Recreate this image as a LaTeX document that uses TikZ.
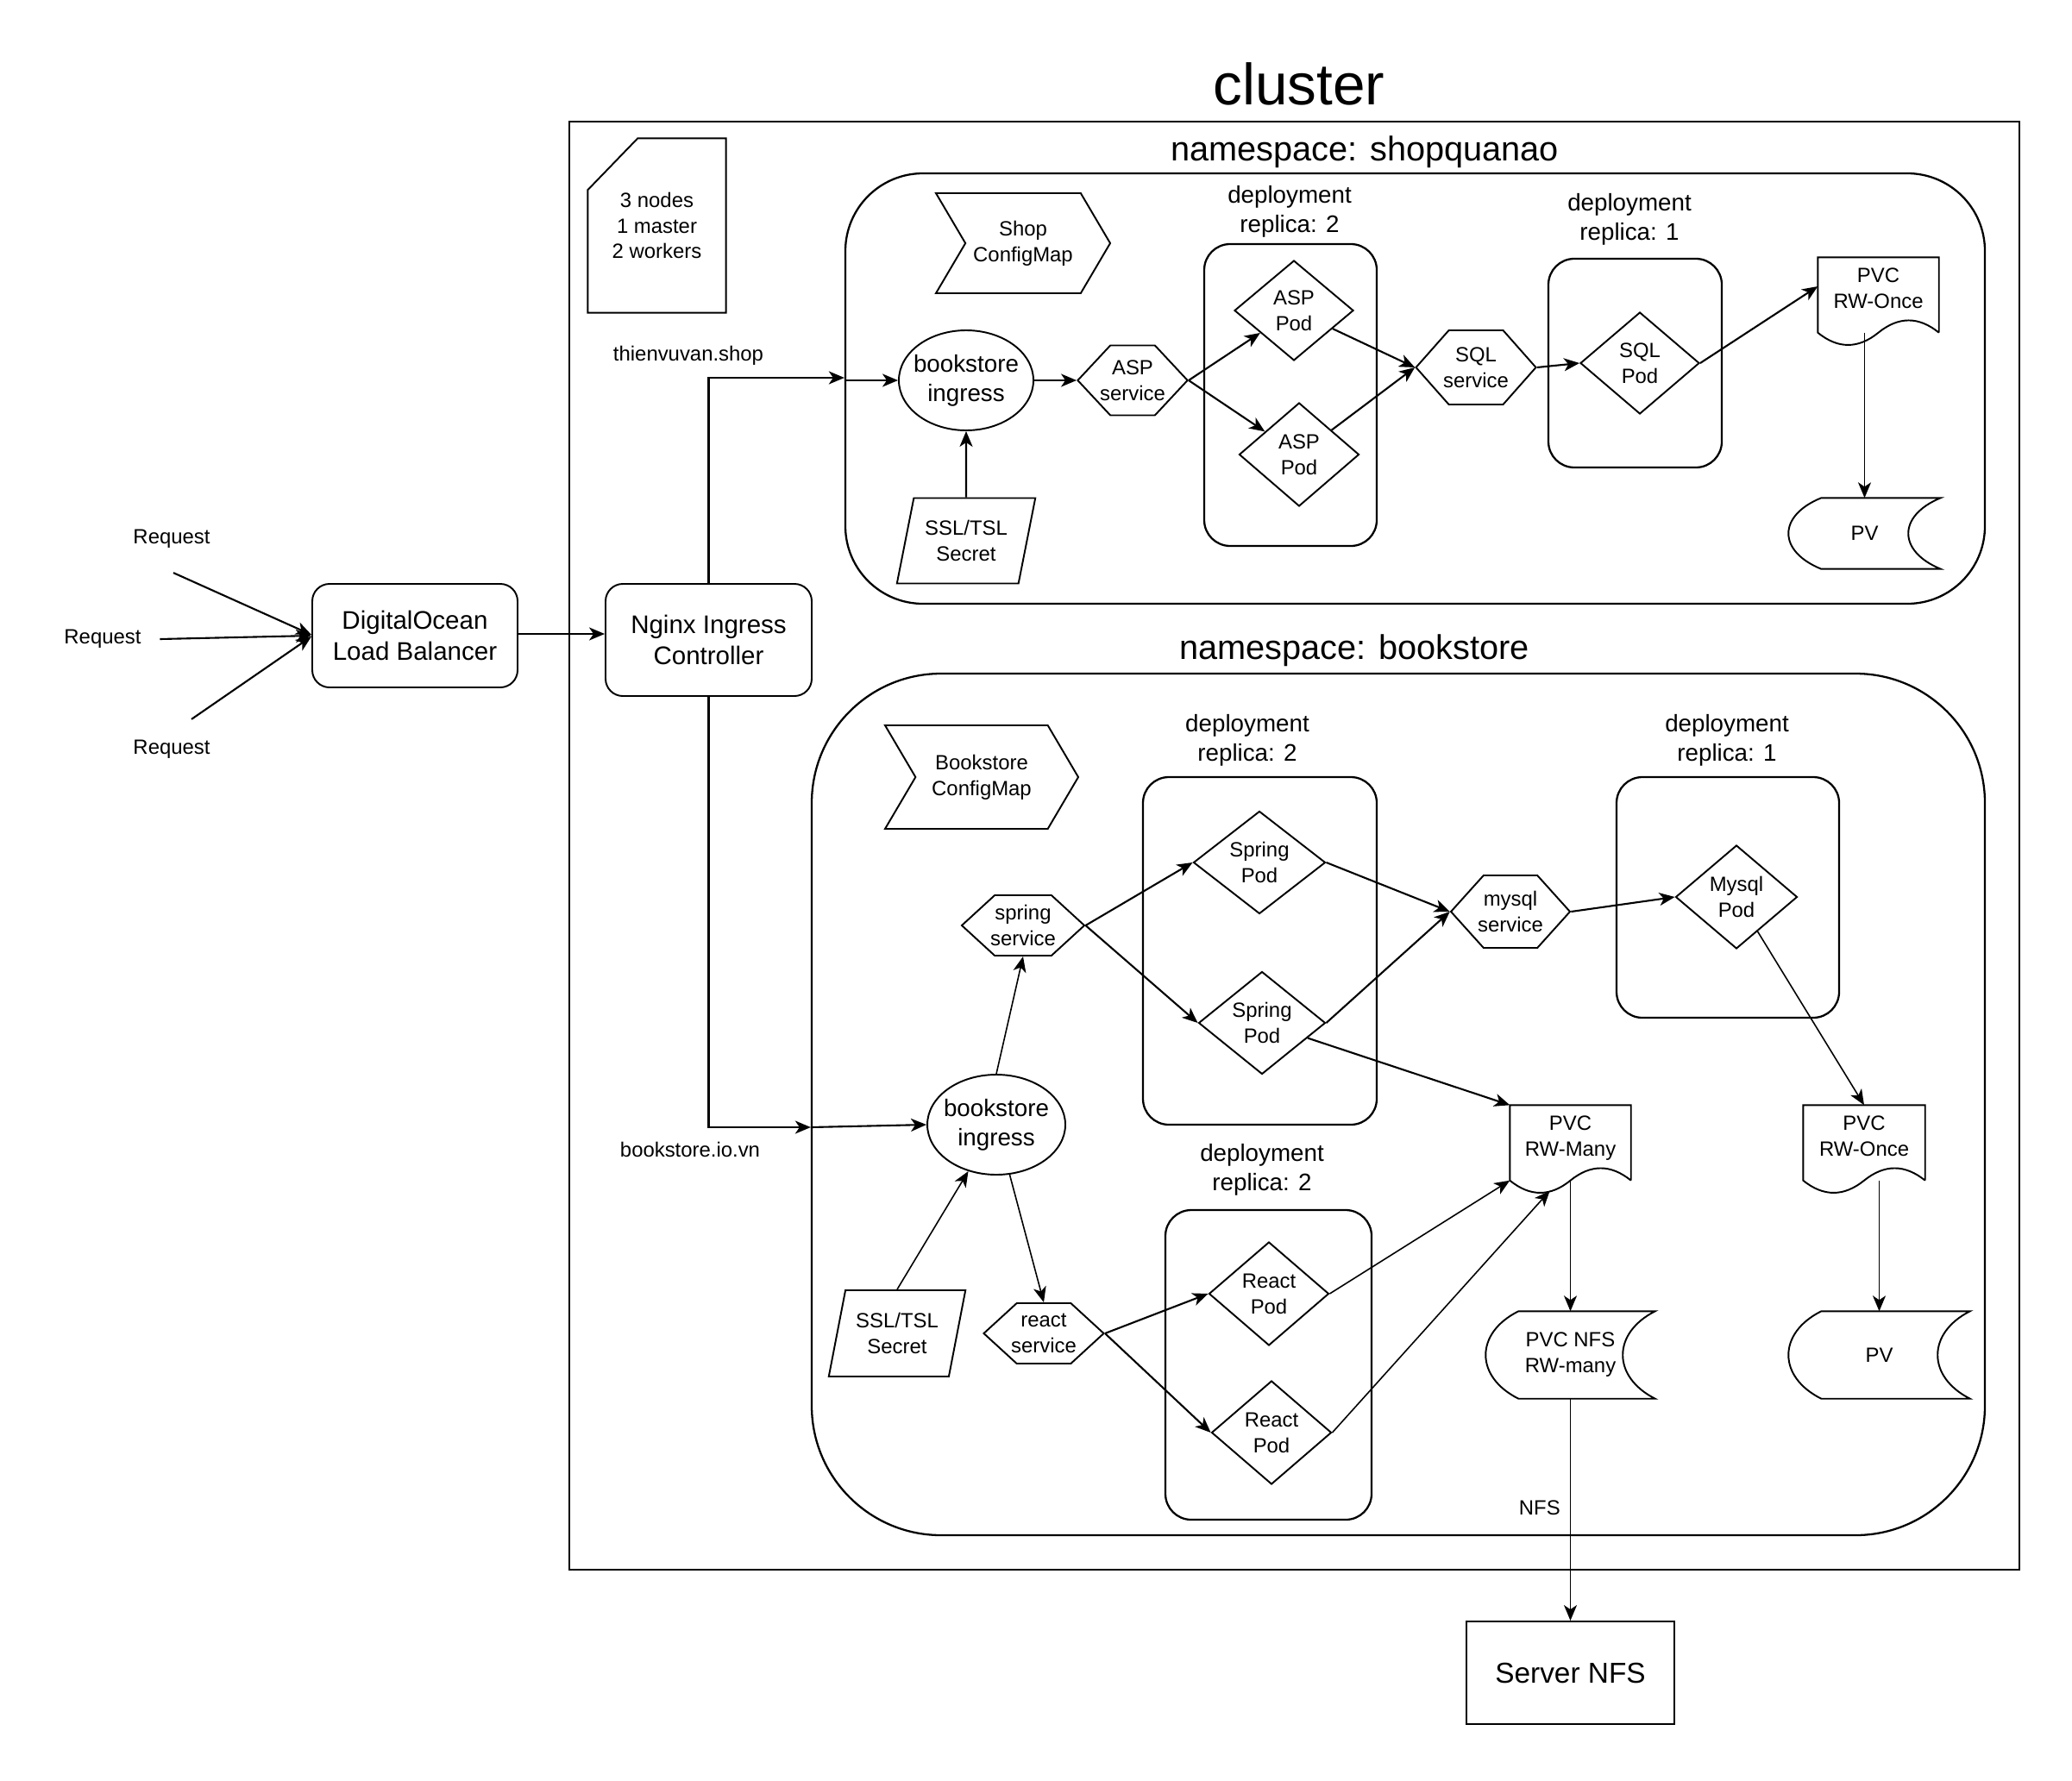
\documentclass[tikz,border=0pt]{standalone}
\usepackage{fontspec}
\setmainfont{Liberation Sans}
\usetikzlibrary{arrows.meta,shapes.geometric,shapes.symbols,calc}

\tikzset{
  sm/.style={font=\fontsize{6.8}{8.5}\selectfont, align=center},
  md/.style={font=\fontsize{7.9}{9.6}\selectfont, align=center},
  box/.style={draw, line width=0.55pt, inner sep=0pt},
  pod/.style={box, diamond, sm},
  svc/.style={box, signal, signal to=east and west, inner xsep=-0.065cm, sm},
  cfg/.style={box, signal, signal from=west, signal to=east, signal pointer angle=119, sm},
  secret/.style={box, trapezium, trapezium left angle=72, trapezium right angle=108,
    trapezium stretches=true, sm},
  ingress/.style={box, ellipse, inner xsep=-0.06cm, md},
  deploy/.style={box, line width=0.65pt, rounded corners=0.3cm},
  pvcbox/.style={sm, text depth=0.15cm},
  arr/.style={-{Stealth[length=0.18cm,width=0.15cm,inset=0.05cm]}, line width=0.6pt},
  tarr/.style={arr, line width=0.45pt},
}

% PVC outline: box with a wavy bottom
\newcommand{\pvcdoc}[1]{%
  \draw[line width=0.55pt] (#1.south east) -- (#1.north east) -- (#1.north west) -- (#1.south west)
    .. controls ($(#1.south west)!0.1667!(#1.south east)+(0,-0.19)$) and ($(#1.south west)!0.3333!(#1.south east)+(0,-0.19)$) .. (#1.south)
    .. controls ($(#1.south west)!0.6667!(#1.south east)+(0,0.19)$) and ($(#1.south west)!0.8333!(#1.south east)+(0,0.19)$) .. (#1.south east);}
% PV outline: round left side, hollow right side
\newcommand{\storeshape}[1]{%
  \draw[line width=0.55pt] ($(#1.north west)+(0.38,0)$) -- (#1.north east)
    .. controls ($(#1.north east)!0.25!(#1.south east)+(-0.5,0)$) and ($(#1.north east)!0.75!(#1.south east)+(-0.5,0)$) .. (#1.south east)
    -- ($(#1.south west)+(0.38,0)$)
    .. controls ($(#1.south west)!0.25!(#1.north west)+(-0.127,0)$) and ($(#1.south west)!0.75!(#1.north west)+(-0.127,0)$) .. ($(#1.north west)+(0.38,0)$) -- cycle;}

\begin{document}
\begin{tikzpicture}
\useasboundingbox (0,0) rectangle (24.02,-20.64);

\node[font=\fontsize{19.2}{23}\selectfont] (ttl) at (15.06,-0.97) {cluster};
\node[box, line width=0.6pt, minimum width=16.81cm, minimum height=16.79cm] (cluster) at (15.005,-9.805) {};

\node[sm, minimum width=1.59cm, minimum height=2.01cm] (note) at (7.615,-2.615) {3 nodes\\1 master\\2 workers};
\draw[line width=0.55pt] ([yshift=-0.6cm]note.north west) -- ([xshift=0.58cm]note.north west)
  -- (note.north east) -- (note.south east) -- (note.south west) -- cycle;

% outside the cluster
\node[sm] (req1) at (1.99,-6.25) {Request};
\node[sm] (req2) at (1.19,-7.41) {Request};
\node[sm] (req3) at (1.99,-8.69) {Request};
\node[box, md, font=\fontsize{8.4}{10}\selectfont, rounded corners=0.2cm, minimum width=2.38cm, minimum height=1.20cm] (lb) at (4.81,-7.37) {DigitalOcean\\Load Balancer};
\node[box, md, font=\fontsize{8.4}{10}\selectfont, rounded corners=0.2cm, minimum width=2.39cm, minimum height=1.30cm] (nginx) at (8.215,-7.42) {Nginx Ingress\\Controller};
\node[box, font=\fontsize{9.5}{11}\selectfont, minimum width=2.41cm, minimum height=1.19cm] (server) at (18.205,-19.395) {Server NFS};

\draw[arr] ([xshift=0.02cm,yshift=-0.16cm]req1.south) -- ([yshift=0.01cm]lb.west);
\draw[arr] ([xshift=0.095cm]req2.east) -- (lb.west);
\draw[arr] ([xshift=0.23cm,yshift=0.12cm]req3.north) -- ([yshift=-0.01cm]lb.west);
\draw[arr] ([yshift=0.02cm]lb.east) -- ([yshift=0.02cm]lb.east -| nginx.west);

% namespace shopquanao
\node[font=\fontsize{11.3}{13}\selectfont] (ns1t) at (15.82,-1.76) {namespace: shopquanao};
\node[box, line width=0.65pt, rounded corners=0.9cm, minimum width=13.21cm, minimum height=4.99cm] (ns1) at (16.405,-4.505) {};

\node[cfg, minimum width=2.02cm, minimum height=1.16cm] (cm1) at (11.86,-2.82) {Shop\\ConfigMap};
\node[ingress, minimum width=1.56cm, minimum height=1.16cm] (ing1) at (11.20,-4.41) {bookstore\\ingress};
\node[svc, signal pointer angle=94, inner xsep=-0.12cm, minimum width=1.25cm, minimum height=0.81cm] (svc1) at (13.13,-4.41) {ASP\\service};
\node[secret, minimum width=1.61cm, minimum height=0.99cm] (sec1) at (11.20,-6.27) {SSL/TSL\\Secret};

\node[md] (dep1t) at (14.95,-2.45) {deployment\\replica: 2};
\node[deploy, minimum width=2.00cm, minimum height=3.50cm] (dep1) at (14.96,-4.58) {};
\node[pod, minimum width=1.38cm, minimum height=1.16cm] (pod1a) at (15.00,-3.60) {ASP\\Pod};
\node[pod, minimum width=1.39cm, minimum height=1.20cm] (pod1b) at (15.06,-5.27) {ASP\\Pod};
\node[svc, signal pointer angle=97, minimum width=1.39cm, minimum height=0.86cm] (sqlsvc) at (17.11,-4.26) {SQL\\service};

\node[md] (dep2t) at (18.89,-2.54) {deployment\\replica: 1};
\node[deploy, minimum width=2.01cm, minimum height=2.42cm] (dep2) at (18.955,-4.21) {};
\node[pod, minimum width=1.38cm, minimum height=1.18cm] (sqlpod) at (19.01,-4.21) {SQL\\Pod};

\node[pvcbox, minimum width=1.39cm, minimum height=0.86cm] (pvc1) at (21.775,-3.42) {PVC\\RW-Once};
\pvcdoc{pvc1}
\node[sm, minimum width=1.75cm, minimum height=0.81cm] (pv1) at (21.615,-6.185) {PV};
\storeshape{pv1}

\coordinate (shopin) at (ns1.west |- ing1.west);
\draw[arr] (nginx.north) |- node[sm, pos=0.5, xshift=-0.235cm, yshift=0.26cm] {thienvuvan.shop} ([yshift=0.03cm]shopin);
\draw[arr] (shopin) -- (ing1.west);
\draw[arr] (ing1.east) -- (svc1.west);
\draw[arr] (sec1.north) -- (ing1.south);
\draw[arr] (svc1.east) -- (pod1a);
\draw[arr] (svc1.east) -- (pod1b);
\draw[arr] (pod1a) -- (sqlsvc.west);
\draw[arr] (pod1b) -- (sqlsvc.west);
\draw[arr] (sqlsvc.east) -- (sqlpod.west);
\draw[arr] (sqlpod.east) -- ([yshift=0.1cm]pvc1.west);
\draw[tarr] (pvc1.south -| pv1.north) -- (pv1.north);

% namespace bookstore
\node[font=\fontsize{11.3}{13}\selectfont] (ns2t) at (15.70,-7.54) {namespace: bookstore};
\node[box, line width=0.65pt, rounded corners=1.5cm, minimum width=13.60cm, minimum height=9.99cm] (ns2) at (16.21,-12.805) {};

\node[cfg, minimum width=2.24cm, minimum height=1.20cm] (cm2) at (11.38,-9.01) {Bookstore\\ConfigMap};
\node[ingress, minimum width=1.60cm, minimum height=1.16cm] (ing2) at (11.55,-13.04) {bookstore\\ingress};
\node[svc, signal pointer angle=85, inner xsep=-0.05cm, minimum width=1.42cm, minimum height=0.70cm] (ssvc) at (11.86,-10.73) {spring\\service};
\node[svc, signal pointer angle=85, minimum width=1.39cm, minimum height=0.70cm] (rsvc) at (12.10,-15.46) {react\\service};
\node[secret, minimum width=1.59cm, minimum height=1.00cm] (sec2) at (10.40,-15.46) {SSL/TSL\\Secret};

\node[md] (dep3t) at (14.46,-8.58) {deployment\\replica: 2};
\node[deploy, minimum width=2.71cm, minimum height=4.03cm] (dep3) at (14.605,-11.025) {};
\node[pod, minimum width=1.53cm, minimum height=1.19cm] (spod1) at (14.60,-10.00) {Spring\\Pod};
\node[pod, minimum width=1.47cm, minimum height=1.19cm] (spod2) at (14.63,-11.86) {Spring\\Pod};
\node[svc, signal pointer angle=96, inner xsep=-0.07cm, minimum width=1.38cm, minimum height=0.84cm] (msvc) at (17.51,-10.57) {mysql\\service};

\node[md] (dep4t) at (20.02,-8.58) {deployment\\replica: 1};
\node[deploy, minimum width=2.58cm, minimum height=2.79cm] (dep4) at (20.03,-10.405) {};
\node[pod, minimum width=1.41cm, minimum height=1.20cm] (mpod) at (20.13,-10.40) {Mysql\\Pod};

\node[md] (dep5t) at (14.63,-13.56) {deployment\\replica: 2};
\node[deploy, minimum width=2.39cm, minimum height=3.59cm] (dep5) at (14.705,-15.825) {};
\node[pod, minimum width=1.39cm, minimum height=1.20cm] (rpod1) at (14.71,-15.00) {React\\Pod};
\node[pod, minimum width=1.39cm, minimum height=1.20cm] (rpod2) at (14.74,-16.61) {React\\Pod};

\node[pvcbox, minimum width=1.39cm, minimum height=0.86cm] (pvc2) at (18.205,-13.25) {PVC\\RW-Many};
\pvcdoc{pvc2}
\node[pvcbox, minimum width=1.40cm, minimum height=0.86cm] (pvc3) at (21.61,-13.25) {PVC\\RW-Once};
\pvcdoc{pvc3}
\node[sm, minimum width=1.95cm, minimum height=1.00cm] (pvcnfs) at (18.205,-15.71) {PVC NFS\\RW-many};
\storeshape{pvcnfs}
\node[sm, minimum width=2.09cm, minimum height=1.00cm] (pv2) at (21.785,-15.71) {PV};
\storeshape{pv2}

\coordinate (bookin) at (ns2.west |- 0,-13.07);
\draw[arr] (nginx.south) |- node[sm, pos=0.5, xshift=-0.215cm, yshift=-0.26cm] {bookstore.io.vn} (bookin);
\draw[arr] (bookin) -- (ing2.west);
\draw[tarr] (ing2.north) -- (ssvc.south);
\draw[arr] (ssvc.east) -- (spod1.west);
\draw[arr] (ssvc.east) -- (spod2.west);
\draw[arr] (spod1.east) -- (msvc.west);
\draw[arr] (spod2.east) -- (msvc.west);
\draw[arr] (msvc.east) -- (mpod.west);
\draw[tarr] (mpod) -- (pvc3.north);
\draw[arr] (spod2) -- (pvc2.north west);
\draw[tarr] (sec2.north) -- (ing2);
\draw[tarr] (ing2) -- (rsvc.north);
\draw[arr] (rsvc.east) -- (rpod1.west);
\draw[arr] (rsvc.east) -- (rpod2.west);
\draw[tarr] (rpod1.east) -- (pvc2.south west);
\draw[tarr] (rpod2.east) -- ($(pvc2.south west)!0.33!(pvc2.south east)+(0,-0.12)$);
\draw[tarr] (pvc2.south) -- (pvcnfs.north);
\draw[tarr] (pvc3.south -| pv2.north) -- (pv2.north);
\draw[tarr] (pvcnfs.south) -- node[sm, left, pos=0.49, inner sep=0.11cm] {NFS} (server.north);
\end{tikzpicture}
\end{document}
